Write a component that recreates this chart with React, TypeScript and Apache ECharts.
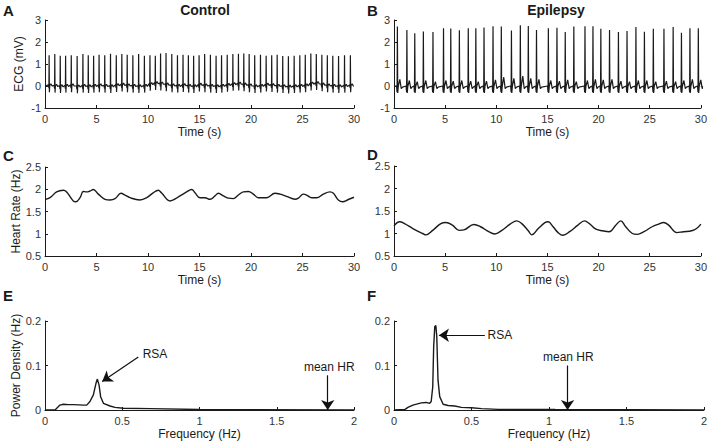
import React, { useEffect, useRef } from "react";
import * as echarts from "echarts";

// ---------- DATA ----------
// ECG beats (control)
const ctrlBeatT = [
  0.40, 0.95, 1.48, 2.00, 2.55,
  3.12, 3.68, 4.20, 4.72, 5.25,
  5.80, 6.36, 6.92, 7.46, 7.98,
  8.53, 9.09, 9.65, 10.19, 10.71,
  11.22, 11.75, 12.31, 12.86, 13.40,
  13.92, 14.43, 14.96, 15.50, 16.06,
  16.61, 17.14, 17.69, 18.24, 18.78,
  19.30, 19.82, 20.36, 20.92, 21.47,
  22.01, 22.54, 23.08, 23.63, 24.19,
  24.74, 25.27, 25.81, 26.34, 26.88,
  27.41, 27.94, 28.50, 29.08, 29.65,
];
const ctrlPeak = [
  1.40, 1.45, 1.38, 1.37, 1.40,
  1.36, 1.45, 1.40, 1.38, 1.42,
  1.40, 1.47, 1.40, 1.45, 1.42,
  1.40, 1.45, 1.38, 1.40, 1.38,
  1.48, 1.50, 1.45, 1.40, 1.42,
  1.40, 1.38, 1.40, 1.45, 1.42,
  1.38, 1.40, 1.42, 1.45, 1.47,
  1.48, 1.45, 1.40, 1.42, 1.38,
  1.40, 1.42, 1.36, 1.35, 1.38,
  1.40, 1.42, 1.48, 1.45, 1.42,
  1.40, 1.38, 1.36, 1.40, 1.40,
];
const ctrlBase = [
  0.02, 0.00, -0.02, 0.00, 0.02,
  -0.03, 0.00, -0.02, 0.00, 0.02,
  0.00, -0.02, 0.03, 0.05, 0.02,
  0.00, -0.02, 0.00, 0.08, 0.12,
  0.10, 0.06, 0.02, 0.00, 0.03,
  0.00, -0.02, 0.05, 0.02, 0.00,
  -0.02, 0.00, 0.04, 0.08, 0.10,
  0.06, 0.02, -0.02, 0.00, 0.05,
  0.03, 0.00, -0.02, -0.04, -0.02,
  0.00, 0.02, 0.10, 0.12, 0.06,
  0.02, 0.00, -0.02, 0.00, 0.02,
];
// ECG beats (epilepsy)
const epiBeatT = [
  0.33, 1.26, 2.03, 2.87, 3.81,
  4.84, 5.55, 6.39, 7.26, 8.00,
  8.80, 9.68, 10.49, 11.48, 12.35,
  13.13, 13.93, 15.09, 15.93, 16.74,
  17.58, 18.67, 19.45, 20.22, 21.07,
  21.94, 22.78, 23.65, 24.48, 25.35,
  26.39, 27.29, 28.10, 28.93, 29.75,
];
const epiPeak = [
  2.70, 2.55, 2.40, 2.48, 2.45,
  2.63, 2.61, 2.53, 2.63, 2.63,
  2.66, 2.72, 2.70, 2.52, 2.76,
  2.73, 2.55, 2.62, 2.65, 2.45,
  2.70, 2.72, 2.72, 2.60, 2.55,
  2.45, 2.50, 2.68, 2.47, 2.60,
  2.60, 2.68, 2.42, 2.62, 2.62,
];
const epiTwave = [
  0.30, 0.25, 0.20, 0.25, 0.20,
  0.25, 0.22, 0.25, 0.22, 0.20,
  0.22, 0.28, 0.40, 0.35, 0.45,
  0.35, 0.30, 0.25, 0.22, 0.28,
  0.20, 0.25, 0.30, 0.28, 0.30,
  0.22, 0.20, 0.25, 0.25, 0.20,
  0.22, 0.20, 0.25, 0.30, 0.28,
];
// beat waveform shapes (time offset from R peak, value); R value from peaks, T value from epiTwave
const ctrlTplDt = [-0.07, -0.02, 0, 0.025, 0.06, 0.17, 0.28];
const ctrlTplV = [0.03, -0.12, 0, -0.3, 0.0, 0.08, -0.02];
const epiTplDt = [-0.08, -0.03, 0, 0.035, 0.09, 0.24, 0.38, 0.5];
const epiTplV = [0.0, -0.28, 0, -0.32, -0.02, 0, -0.12, -0.05];

// Heart rate
const hrCtrlT = [0, 0.49, 1.13, 1.78, 2.1, 2.75, 3.0, 3.4, 3.72, 4.05, 4.37, 4.69, 5.18, 5.83, 6.31, 6.8, 7.38, 7.77, 8.25, 9.22, 9.87, 10.5, 11.0, 11.3, 12.14, 12.46, 13.1, 13.75, 14.24, 14.56, 15.05, 15.53, 16.02, 16.5, 16.83, 17.31, 17.8, 18.28, 18.77, 19.26, 19.74, 20.23, 20.71, 21.52, 22.33, 22.82, 23.46, 24.27, 24.6, 25.08, 25.4, 25.89, 26.38, 27.02, 27.67, 28.0, 28.48, 28.9, 29.45, 30.0];
const hrCtrlV = [1.77, 1.81, 1.94, 1.976, 1.94, 1.736, 1.72, 1.81, 1.95, 1.94, 1.96, 1.995, 1.89, 1.774, 1.76, 1.79, 1.91, 1.87, 1.81, 1.76, 1.81, 1.92, 1.976, 1.92, 1.736, 1.76, 1.85, 1.94, 1.995, 1.92, 1.81, 1.81, 1.774, 1.85, 1.91, 1.85, 1.8, 1.79, 1.87, 1.94, 1.95, 1.89, 1.81, 1.81, 1.91, 1.89, 1.84, 1.774, 1.80, 1.89, 1.87, 1.81, 1.81, 1.89, 1.94, 1.91, 1.76, 1.72, 1.77, 1.82];
const hrEpiT = [0, 0.55, 1.03, 1.84, 2.81, 3.13, 3.78, 4.58, 5.07, 5.71, 6.36, 6.84, 7.81, 8.46, 9.26, 9.84, 10.55, 11.36, 12.0, 12.49, 13.13, 13.46, 14.1, 14.75, 15.07, 15.55, 16.04, 16.52, 17.17, 17.98, 18.62, 19.1, 19.75, 20.39, 21.04, 21.68, 22.17, 22.65, 23.3, 23.78, 24.43, 25.23, 25.88, 26.36, 26.85, 27.65, 28.3, 29.1, 29.58, 30.0];
const hrEpiV = [1.17, 1.26, 1.22, 1.11, 1.0, 0.97, 1.07, 1.22, 1.245, 1.185, 1.07, 1.08, 1.2, 1.15, 1.04, 0.99, 1.07, 1.21, 1.28, 1.22, 1.06, 0.97, 1.11, 1.24, 1.26, 1.15, 1.02, 0.96, 1.04, 1.185, 1.28, 1.22, 1.095, 1.06, 1.04, 1.185, 1.28, 1.15, 1.0, 0.98, 1.04, 1.15, 1.21, 1.245, 1.185, 1.02, 1.04, 1.06, 1.11, 1.21];

// Power spectral density
const psdCtrlF = [0, 0.065, 0.076, 0.097, 0.119, 0.15, 0.184, 0.22, 0.248, 0.27, 0.291, 0.313, 0.33, 0.339, 0.35, 0.36, 0.378, 0.421, 0.453, 0.507, 0.68, 1.0, 2.0];
const psdCtrlP = [0, 0, 0.004, 0.011, 0.013, 0.012, 0.012, 0.0115, 0.011, 0.011, 0.019, 0.034, 0.06, 0.0695, 0.056, 0.03, 0.015, 0.009, 0.006, 0.004, 0.003, 0.001, 0];
const psdEpiF = [0, 0.069, 0.09, 0.122, 0.176, 0.208, 0.23, 0.24, 0.25, 0.256, 0.263, 0.27, 0.276, 0.284, 0.295, 0.317, 0.349, 0.392, 0.435, 0.5, 0.565, 0.673, 1.04, 2.0];
const psdEpiP = [0, 0.001, 0.006, 0.011, 0.016, 0.017, 0.015, 0.019, 0.052, 0.142, 0.187, 0.19, 0.165, 0.067, 0.03, 0.013, 0.01, 0.009, 0.006, 0.005, 0.003, 0.0015, 0.001, 0];

// Annotations
const meanHrCtrl = 1.83;
const meanHrEpi = 1.12;

// Tick settings
const timeTicks = { min: 0, max: 30, interval: 5 };
const freqTicks = { min: 0, max: 2, interval: 0.5 };
const ecgTicks = { min: -1, max: 3, interval: 1 };
const hrTicks = { min: 0.5, max: 2.5, interval: 0.5 };
const psdTicks = { min: 0, max: 0.2, interval: 0.1 };

// ---------- helpers ----------
function zip(xs: number[], ys: number[]) {
  const n = Math.min(xs.length, ys.length);
  const out: number[][] = [];
  for (let i = 0; i < n; i++) out.push([xs[i], ys[i]]);
  return out;
}

function buildEcg(
  times: number[], peaks: number[], base: number[] | null, tw: number[] | null,
  dt: number[], tv: number[], tIdx: number
) {
  const out: number[][] = [[0, 0]];
  for (let i = 0; i < times.length; i++) {
    const b = base ? base[i] : 0;
    for (let k = 0; k < dt.length; k++) {
      let v = tv[k] + b;
      if (k === 2) v = peaks[i];
      else if (tw && k === tIdx) v = tw[i] + b;
      out.push([times[i] + dt[k], v]);
    }
  }
  out.push([30, 0]);
  return out;
}

const FONT = "'Liberation Sans', Arial, Helvetica, sans-serif";
const INK = "#1a1a1a";

function xAx(gi: number, ticks: any, name: string) {
  return {
    type: "value", gridIndex: gi, ...ticks,
    name, nameLocation: "middle", nameGap: 18,
    nameTextStyle: { fontFamily: FONT, fontSize: 12, color: INK },
    axisLine: { show: true, onZero: false, lineStyle: { color: INK, width: 1 } },
    axisTick: { show: true, inside: true, length: 3, lineStyle: { color: INK } },
    axisLabel: { fontFamily: FONT, fontSize: 11, color: "#333", margin: 5 },
    splitLine: { show: false },
  };
}
function yAx(gi: number, ticks: any, name: string) {
  return {
    type: "value", gridIndex: gi, ...ticks,
    name, nameLocation: "middle", nameGap: 20, nameRotate: 90,
    nameTextStyle: { fontFamily: FONT, fontSize: 12, color: INK },
    axisLine: { show: true, onZero: false, lineStyle: { color: INK, width: 1 } },
    axisTick: { show: true, inside: true, length: 3, lineStyle: { color: INK } },
    axisLabel: { fontFamily: FONT, fontSize: 11, color: "#333", margin: 4 },
    splitLine: { show: false },
  };
}

function arrowLine(from: number[], to: number[]) {
  return [{ coord: from }, { coord: to }];
}

function textPoint(coord: number[], text: string) {
  return {
    coord,
    symbol: "rect",
    symbolSize: 1,
    itemStyle: { color: "rgba(0,0,0,0)" },
    label: {
      show: true, position: "inside", formatter: text,
      fontFamily: FONT, fontSize: 12, color: INK,
    },
  };
}

const markLineBase = {
  silent: true,
  symbol: ["none", "arrow"],
  symbolSize: 10,
  label: { show: false },
  lineStyle: { color: "#111", width: 1.2, type: "solid" },
  emphasis: { disabled: true },
};

export default function App() {
  const ref = useRef<HTMLDivElement>(null);
  useEffect(() => {
    if (!ref.current) return;
    const chart = echarts.init(ref.current, null, { renderer: "svg" });
    const ecgCtrl = buildEcg(ctrlBeatT, ctrlPeak, ctrlBase, null, ctrlTplDt, ctrlTplV, -1);
    const ecgEpi = buildEcg(epiBeatT, epiPeak, null, epiTwave, epiTplDt, epiTplV, 5);

    const letter = (t: string, x: number, y: number) => ({
      type: "text", x, y,
      style: { text: t, font: `bold 15px ${FONT}`, fill: INK, textAlign: "left", textVerticalAlign: "middle" },
    });
    const title = (t: string, x: number, y: number) => ({
      type: "text", x, y,
      style: { text: t, font: `bold 14px ${FONT}`, fill: INK, textAlign: "center", textVerticalAlign: "middle" },
    });

    chart.setOption({
      animation: false,
      backgroundColor: "#fff",
      grid: [
        { left: 45, top: 20, width: 309, height: 88 },
        { left: 394, top: 20, width: 310, height: 88 },
        { left: 45, top: 167, width: 309, height: 89 },
        { left: 394, top: 166, width: 310, height: 90 },
        { left: 45, top: 321, width: 309, height: 89 },
        { left: 394, top: 321, width: 310, height: 89 },
      ],
      xAxis: [
        xAx(0, timeTicks, "Time (s)"),
        xAx(1, timeTicks, "Time (s)"),
        xAx(2, timeTicks, "Time (s)"),
        xAx(3, timeTicks, "Time (s)"),
        xAx(4, freqTicks, "Frequency (Hz)"),
        xAx(5, freqTicks, "Frequency (Hz)"),
      ],
      yAxis: [
        yAx(0, ecgTicks, "ECG (mV)"),
        yAx(1, ecgTicks, ""),
        yAx(2, hrTicks, "Heart Rate (Hz)"),
        yAx(3, hrTicks, ""),
        yAx(4, psdTicks, "Power Density (Hz)"),
        yAx(5, psdTicks, ""),
      ],
      graphic: [
        letter("A", 3, 10), letter("B", 367, 10),
        letter("C", 3, 155), letter("D", 367, 154),
        letter("E", 3, 295), letter("F", 367, 295),
        title("Control", 205, 10), title("Epilepsy", 556, 10),
      ],
      series: [
        {
          type: "line", xAxisIndex: 0, yAxisIndex: 0, data: ecgCtrl,
          showSymbol: false, lineStyle: { color: INK, width: 1.2 }, silent: true,
        },
        {
          type: "line", xAxisIndex: 1, yAxisIndex: 1, data: ecgEpi,
          showSymbol: false, lineStyle: { color: INK, width: 1.2 }, silent: true,
        },
        {
          type: "line", xAxisIndex: 2, yAxisIndex: 2, data: zip(hrCtrlT, hrCtrlV),
          smooth: 0.4, showSymbol: false, lineStyle: { color: INK, width: 1.4 }, silent: true,
        },
        {
          type: "line", xAxisIndex: 3, yAxisIndex: 3, data: zip(hrEpiT, hrEpiV),
          smooth: 0.4, showSymbol: false, lineStyle: { color: INK, width: 1.4 }, silent: true,
        },
        {
          type: "line", xAxisIndex: 4, yAxisIndex: 4, data: zip(psdCtrlF, psdCtrlP),
          showSymbol: false, lineStyle: { color: INK, width: 1.4 }, silent: true,
          markLine: {
            ...markLineBase,
            data: [
              arrowLine([0.604, 0.119], [0.37, 0.064]),
              arrowLine([meanHrCtrl, 0.078], [meanHrCtrl, 0.0]),
            ],
          },
          markPoint: {
            silent: true,
            data: [textPoint([0.712, 0.125], "RSA"), textPoint([1.84, 0.097], "mean HR")],
          },
        },
        {
          type: "line", xAxisIndex: 5, yAxisIndex: 5, data: zip(psdEpiF, psdEpiP),
          showSymbol: false, lineStyle: { color: INK, width: 1.4 }, silent: true,
          markLine: {
            ...markLineBase,
            data: [
              arrowLine([0.586, 0.168], [0.29, 0.168]),
              arrowLine([meanHrEpi, 0.10], [meanHrEpi, 0.0]),
            ],
          },
          markPoint: {
            silent: true,
            data: [textPoint([0.683, 0.168], "RSA"), textPoint([1.125, 0.119], "mean HR")],
          },
        },
      ],
    });
    return () => chart.dispose();
  }, []);
  return (
    <div
      ref={ref}
      style={{ position: "fixed", left: 0, top: 0, width: 710, height: 443, background: "#fff" }}
    />
  );
}
